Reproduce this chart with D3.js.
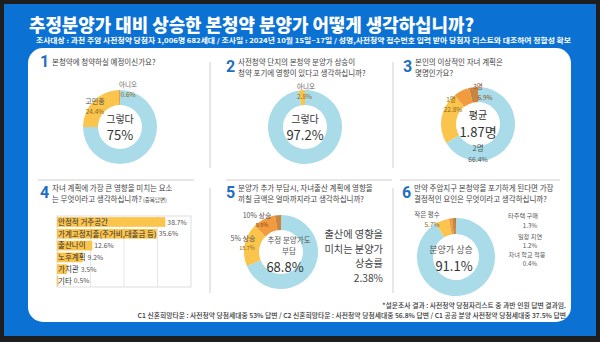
<!DOCTYPE html>
<html><head><meta charset="utf-8">
<script src="https://cdn.jsdelivr.net/npm/d3@7"></script>
<style>
html,body{margin:0;padding:0;background:#1e1e1e;}
svg{display:block;font-family:"Noto Sans CJK KR","Noto Sans",sans-serif;}
</style></head><body>
<svg id="c" width="600" height="342"></svg>
<script>
const title = "추정분양가 대비 상승한 본청약 분양가 어떻게 생각하십니까?";
const subtitle = "조사대상 : 과천 주암 사전청약 당첨자 1,006명 682세대   / 조사일 : 2024년 10월 15일~17일 / 성명,사전청약 접수번호 입력 받아 당첨자 리스트와 대조하여 정합성 확보";
const footnote1 = "*설문조사 결과 : 사전청약 당첨자리스트 중 과반 인원 답변 결과임.";
const footnote2 = "C1 신혼희망타운 : 사전청약 당첨세대중 53% 답변   / C2 신혼희망타운 : 사전청약 당첨세대중 56.8% 답변 / C1 공공 분양 사전청약 당첨세대중 37.5% 답변";

const q1Labels = ["그렇다", "고민중", "아니오"];
const q1Values = [75, 24.4, 0.6];
const q2Labels = ["그렇다", "아니오"];
const q2Values = [97.2, 2.8];
const q3Labels = ["2명", "1명", "3명", "기타"];
const q3Values = [66.4, 22.8, 6.9, 3.9];
const q4Categories = ["안정적 거주공간", "가계고정지출(주거비,대출금 등)", "출산나이", "노후계획", "가치관", "기타"];
const q4Values = [38.7, 35.6, 12.6, 9.2, 3.5, 0.5];
const q5Labels = ["추정 분양가도 부담", "5% 상승", "10% 상승", "기타"];
const q5Values = [68.8, 18.7, 9.9, 2.6];
const q6Labels = ["분양가 상승", "작은 평수", "타주택 구매", "일정 지연", "자녀 학교 적응"];
const q6Values = [91.1, 5.7, 1.3, 1.2, 0.4];

const C = {blue:"#0b72d4", light:"#a9dbe8", yellow:"#fbc44c", orange:"#f29a3e", brown:"#c98540", num:"#1f6fc0", text:"#444", grid:"#cfcfcf"};
const sliceColors = [C.light, C.yellow, C.orange, C.brown, "#b5712f"];

const svg = d3.select("#c");
svg.append("rect").attr("x",0).attr("y",0).attr("width",600).attr("height",342).attr("fill","#1e1e1e");
svg.append("rect").attr("x",4).attr("y",4).attr("width",592).attr("height",332).attr("fill",C.blue);
svg.append("rect").attr("x",28).attr("y",48).attr("width",543).attr("height",274).attr("rx",15).attr("fill","#fff");

svg.append("text").attr("x",29).attr("y",32).attr("fill","#fff").attr("font-size",18).attr("font-weight",900)
  .attr("textLength",445).attr("lengthAdjust","spacingAndGlyphs").text(title);
svg.append("text").attr("x",36).attr("y",43).attr("fill","#fff").attr("font-size",6.3).attr("font-weight",700)
  .attr("textLength",535).attr("lengthAdjust","spacingAndGlyphs").text(subtitle);

// dividers
const g = svg.append("g").attr("stroke",C.grid).attr("stroke-width",1);
[[210,62,210,168],[393,62,393,168],[210,188,210,293],[393,188,393,293],
 [38,180,194,180],[226,180,392,180],[400,180,560,180]].forEach(l=>{
  g.append("line").attr("x1",l[0]).attr("y1",l[1]).attr("x2",l[2]).attr("y2",l[3]);
});

function header(num, x, y, lines, small){
  svg.append("text").attr("x",x).attr("y",y+ (lines.length>1?10:5)).attr("fill",C.num).attr("font-size",16)
    .attr("font-weight",700).attr("font-family","Roboto,sans-serif").text(num);
  lines.forEach((t,i)=>{
    const tx = svg.append("text").attr("x",x+12).attr("y",y+3+i*11).attr("fill",C.text).attr("font-size",7.5).text(t);
    if(i===lines.length-1 && small){ tx.append("tspan").attr("font-size",5.5).text(" "+small); }
  });
}

const pie = d3.pie().sort(null).value(d=>d);
function donut(cx, cy, ro, ri, values){
  const arc = d3.arc().outerRadius(ro).innerRadius(ri);
  const gg = svg.append("g").attr("transform",`translate(${cx},${cy})`);
  gg.selectAll("path").data(pie(values)).join("path").attr("d",arc).attr("fill",(d,i)=>sliceColors[i]);
  return gg;
}
function txt(gg, x, y, t, size, color, anchor, weight){
  return gg.append("text").attr("x",x).attr("y",y).attr("font-size",size).attr("fill",color||C.text)
    .attr("text-anchor",anchor||"middle").attr("font-weight",weight||400).text(t);
}

// Q1
header("1", 40, 62, ["본청약에 청약하실 예정이신가요?"]);
const g1 = donut(120, 127, 37, 22, q1Values);
txt(g1, 0, -4, q1Labels[0], 10, "#333");
txt(g1, 0, 13, q1Values[0]+"%", 13, "#333");
txt(g1, -25, -23, q1Labels[1], 7, "#555");
txt(g1, -25, -13, q1Values[1]+"%", 6.5, "#8a6d1d");
txt(g1, 8, -40, q1Labels[2], 6.5, "#666");
txt(g1, 8, -30, q1Values[2]+"%", 6.5, "#8a6d1d");

// Q2
header("2", 226, 62, ["사전청약 단지의 본청약 분양가 상승이","청약 포기에 영향이 있다고 생각하십니까?"]);
const g2 = donut(305, 127, 37, 22, q2Values);
txt(g2, 0, -4, q2Labels[0], 10, "#333");
txt(g2, 0, 13, q2Values[0]+"%", 13, "#333");
txt(g2, -8, -38, q2Labels[1], 6.5, "#555", "start");
txt(g2, -8, -28, q2Values[1]+"%", 6.5, "#8a6d1d", "start");

// Q3
header("3", 403, 62, ["본인의 이상적인 자녀 계획은","몇명인가요?"]);
const g3 = donut(478, 124, 37, 22, q3Values);
txt(g3, 0, -5, "평균", 10, "#333");
txt(g3, 0, 13, "1.87명", 13, "#333");
txt(g3, 0, 27, q3Labels[0], 7.5, "#555");
txt(g3, 0, 38, q3Values[0]+"%", 6.8, "#555");
txt(g3, -27, -22, q3Labels[1], 6.5, "#8a6d1d");
txt(g3, -25, -12, q3Values[1]+"%", 6.5, "#8a6d1d");
txt(g3, 0, -35, q3Labels[2], 6.5, "#8a4d1d");
txt(g3, 7, -24, q3Values[2]+"%", 6.5, "#8a4d1d");

// Q4
header("4", 40, 188, ["자녀 계획에 가장 큰 영향을 미치는 요소","는 무엇이라고 생각하십니까?"], "(중복답변)");
const bx0 = 57, bx1 = 191, by0 = 216, by1 = 287;
const xS = d3.scaleLinear().domain([0,40]).range([bx0, bx0+112]);
const yS = d3.scaleBand().domain(q4Categories).range([by0, by1]).paddingInner(0.18).paddingOuter(0.1);
const q4 = svg.append("g");
q4.append("rect").attr("x",bx0).attr("y",by0).attr("width",bx1-bx0).attr("height",by1-by0).attr("fill","none").attr("stroke","#d5d5d5").attr("stroke-width",0.8);
[1,2,3].forEach(i=>q4.append("line").attr("x1",bx0+(bx1-bx0)*i/4).attr("x2",bx0+(bx1-bx0)*i/4).attr("y1",by0).attr("y2",by1).attr("stroke","#e0e0e0").attr("stroke-width",0.8));
q4Categories.forEach((c,i)=>{
  q4.append("rect").attr("x",xS(0)).attr("y",yS(c)).attr("width",xS(q4Values[i])-xS(0)).attr("height",yS.bandwidth()).attr("fill",C.yellow);
  const lt = q4.append("text").attr("x",xS(0)+1).attr("y",yS(c)+yS.bandwidth()/2+2.8).attr("font-size",7.5).attr("fill","#333").text(c);
  const le = xS(0)+1+lt.node().getComputedTextLength();
  const vx = Math.max(le, xS(q4Values[i]))+2;
  q4.append("text").attr("x",vx).attr("y",yS(c)+yS.bandwidth()/2+2.5).attr("font-size",6.8).attr("fill","#555").text(q4Values[i]+"%");
});

// Q5
header("5", 226, 188, ["분양가 추가 부담시, 자녀출산 계획에 영향을","끼칠 금액은 얼마까지라고 생각하십니까?"]);
const g5 = donut(281, 252, 37, 22, q5Values);
txt(g5, 8, -9, "추정 분양가도", 7.5, "#555");
txt(g5, 8, 2, "부담", 7.5, "#555");
txt(g5, 4, 20, q5Values[0]+"%", 13, "#333");
txt(g5, -24, -34, q5Labels[2], 7, "#555");
txt(g5, -19, -25, q5Values[2]+"%", 5.5, "#8a4d1d");
txt(g5, -38, -11, q5Labels[1], 7, "#555");
txt(g5, -34, -2, q5Values[1]+"%", 5.5, "#8a6d1d");
[["출산에 영향을",238],["미치는 분양가",252.5],["상승률",267],["2.38%",281.5]].forEach(d=>{
  svg.append("text").attr("x",383).attr("y",d[1]).attr("font-size",10.2).attr("fill","#444").attr("text-anchor","end").text(d[0]);
});

// Q6
header("6", 402, 188, ["만약 주암지구 본청약을 포기하게 된다면 가장","결정적인 요인은 무엇이라고 생각하십니까?"]);
const g6 = donut(456, 257, 39, 23, q6Values);
txt(g6, -5, -4, q6Labels[0], 9, "#555");
txt(g6, -2, 14, q6Values[0]+"%", 13, "#333");
txt(g6, -29, -40, q6Labels[1], 6.5, "#555");
txt(g6, -24, -30, q6Values[1]+"%", 6.5, "#8a6d1d");
const r6 = svg.append("g");
[[q6Labels[2],523,218],[q6Values[2]+"%",530,228],[q6Labels[3],530,239],[q6Values[3]+"%",530,248],[q6Labels[4],527,257],[q6Values[4]+"%",530,266]].forEach(d=>{
  r6.append("text").attr("x",d[1]).attr("y",d[2]).attr("font-size",6.2).attr("fill","#555").attr("text-anchor","middle").text(d[0]);
});

svg.append("text").attr("x",566).attr("y",308).attr("font-size",6.8).attr("fill","#333").attr("text-anchor","end").attr("font-weight",500).text(footnote1);
svg.append("text").attr("x",566).attr("y",318).attr("font-size",6.8).attr("fill","#333").attr("text-anchor","end").attr("font-weight",500).text(footnote2);
</script></body></html>
